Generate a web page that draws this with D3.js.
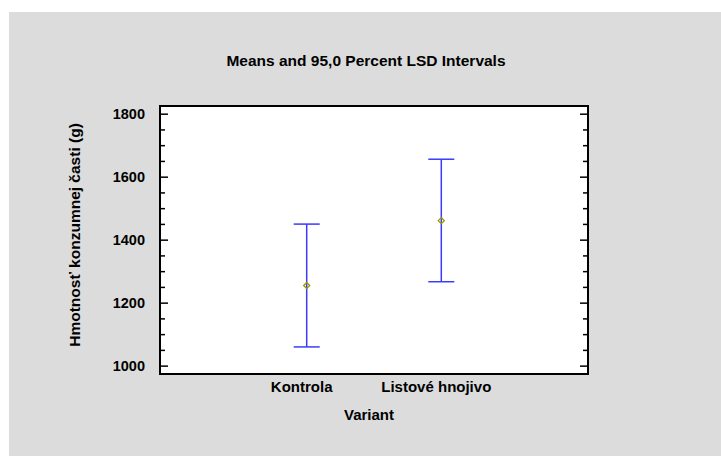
<!DOCTYPE html>
<html>
<head>
<meta charset="utf-8">
<script src="https://cdn.jsdelivr.net/npm/d3@7"></script>
<style>
  body { margin: 0; background: #ffffff; }
  text { font-family: Arial, "Liberation Sans", sans-serif; font-weight: bold; fill: #000; }
</style>
</head>
<body>
<div id="chart"></div>
<script>
// Data
const categories = ["Kontrola", "Listové hnojivo"];
const means = [1256, 1462];
const lower = [1061, 1268];
const upper = [1451, 1657];
const yTicks = [1000, 1200, 1400, 1600, 1800];
const yMinorTicks = d3.range(1000, 1801, 50);

const W = 721, H = 456;
const margin = { top: 106, right: 133, bottom: 82, left: 160 },
    width = W - margin.left - margin.right,
    height = H - margin.top - margin.bottom;

const root = d3.select("#chart")
    .append("svg")
    .attr("width", W)
    .attr("height", H);

// grey panel
root.append("rect")
    .attr("x", 9).attr("y", 12)
    .attr("width", W - 9).attr("height", H - 12)
    .attr("fill", "#dcdcdc");

const svg = root.append("g")
    .attr("transform", `translate(${margin.left},${margin.top})`);

// Scales
const x = d3.scalePoint()
    .domain(categories)
    .range([0, width])
    .padding(1.09);

const y = d3.scaleLinear()
    .domain([975, 1826])
    .range([height, 0]);

// plot area
svg.append("rect")
    .attr("width", width)
    .attr("height", height)
    .attr("fill", "#fff");

// minor + major ticks, left and right, pointing inward
const isMajor = d => yTicks.includes(d);
svg.selectAll(".tick-l")
    .data(yMinorTicks)
    .enter().append("line")
    .attr("x1", 0)
    .attr("x2", d => isMajor(d) ? 8 : 5)
    .attr("y1", d => y(d)).attr("y2", d => y(d))
    .attr("stroke", "#000").attr("stroke-width", 1.5);

svg.selectAll(".tick-r")
    .data(yMinorTicks)
    .enter().append("line")
    .attr("x1", width)
    .attr("x2", d => width - (isMajor(d) ? 8 : 5))
    .attr("y1", d => y(d)).attr("y2", d => y(d))
    .attr("stroke", "#000").attr("stroke-width", 1.5);

// y tick labels
svg.selectAll(".ylab")
    .data(yTicks)
    .enter().append("text")
    .attr("x", -15)
    .attr("y", d => y(d))
    .attr("dy", "0.36em")
    .attr("text-anchor", "end")
    .style("font-size", "14.5px")
    .text(d => d);

// x tick labels
svg.selectAll(".xlab")
    .data(categories)
    .enter().append("text")
    .attr("x", d => x(d) - 5)
    .attr("y", height + 18)
    .attr("text-anchor", "middle")
    .style("font-size", "15px")
    .text(d => d);

// error bars
const cap = 13;
const bars = svg.selectAll(".bar")
    .data(categories)
    .enter().append("g");

bars.append("line")
    .attr("x1", d => x(d)).attr("x2", d => x(d))
    .attr("y1", (d, i) => y(upper[i])).attr("y2", (d, i) => y(lower[i]))
    .attr("stroke", "#3a3aff").attr("stroke-width", 1.5);
bars.append("line")
    .attr("x1", d => x(d) - cap).attr("x2", d => x(d) + cap)
    .attr("y1", (d, i) => y(upper[i])).attr("y2", (d, i) => y(upper[i]))
    .attr("stroke", "#3a3aff").attr("stroke-width", 1.5);
bars.append("line")
    .attr("x1", d => x(d) - cap).attr("x2", d => x(d) + cap)
    .attr("y1", (d, i) => y(lower[i])).attr("y2", (d, i) => y(lower[i]))
    .attr("stroke", "#3a3aff").attr("stroke-width", 1.5);

// mean markers (open diamonds)
bars.append("path")
    .attr("d", d3.symbol().type(d3.symbolDiamond2).size(24))
    .attr("transform", (d, i) => `translate(${x(d)},${y(means[i])})`)
    .attr("fill", "none")
    .attr("stroke", "#9a9a00")
    .attr("stroke-width", 1.3);

// frame
svg.append("rect")
    .attr("width", width)
    .attr("height", height)
    .attr("fill", "none")
    .attr("stroke", "#000")
    .attr("stroke-width", 2);

// Titles
root.append("text")
    .attr("x", 366)
    .attr("y", 66)
    .attr("text-anchor", "middle")
    .style("font-size", "15.5px")
    .text("Means and 95,0 Percent LSD Intervals");

root.append("text")
    .attr("x", 369)
    .attr("y", 420)
    .attr("text-anchor", "middle")
    .style("font-size", "15px")
    .text("Variant");

root.append("text")
    .attr("transform", `translate(80,235) rotate(-90)`)
    .attr("text-anchor", "middle")
    .style("font-size", "15.5px")
    .text("Hmotnosť konzumnej časti (g)");
</script>
</body>
</html>
